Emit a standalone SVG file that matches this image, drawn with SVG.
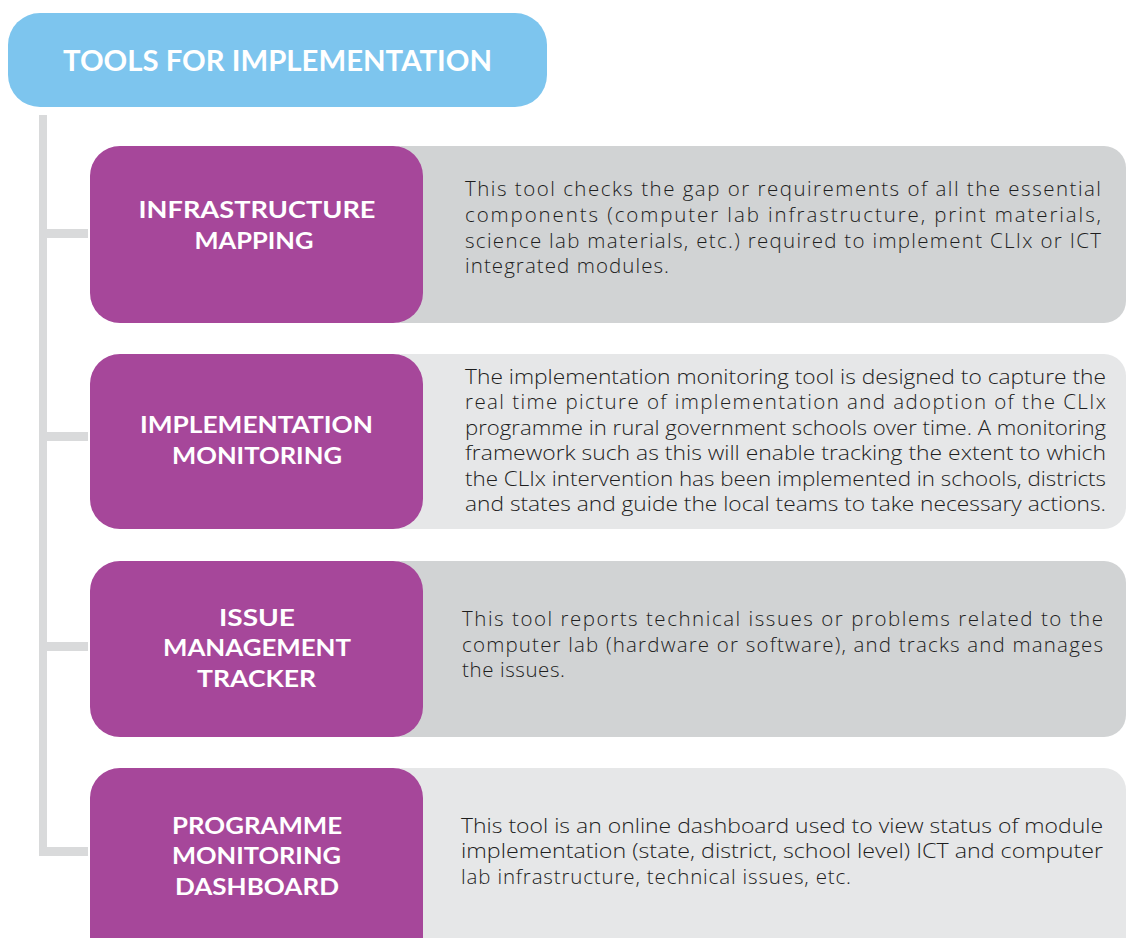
<svg xmlns="http://www.w3.org/2000/svg" width="1126" height="938" viewBox="0 0 1126 938">
<style>
.title{font-family:Lato,"Liberation Sans",sans-serif;font-weight:700;font-size:28px;fill:#fff}
.lab{font-family:Lato,"Liberation Sans",sans-serif;font-weight:700;font-size:23px;fill:#fff;text-anchor:middle}
.body{font-family:"Open Sans","Liberation Sans",sans-serif;font-weight:300;font-size:20.5px;fill:#1e1e1e}
.conn{fill:#D9DADB}
.purple{fill:#A6479A}
.g1{fill:#D1D3D4}
.g2{fill:#E6E7E8}
</style>
<rect width="1126" height="938" fill="#fff"/>
<g id="title">
<rect x="8" y="13" width="539" height="94" rx="32" fill="#7DC5EE"/>
<text class="title" x="277.5" y="71" text-anchor="middle" textLength="429" lengthAdjust="spacingAndGlyphs">TOOLS FOR IMPLEMENTATION</text>
</g>
<g id="connectors">
<rect class="conn" x="39" y="115" width="8" height="741"/>
<rect class="conn" x="39" y="229" width="49" height="9"/>
<rect class="conn" x="39" y="432" width="49" height="9"/>
<rect class="conn" x="39" y="642" width="49" height="9"/>
<rect class="conn" x="39" y="847" width="49" height="9"/>
</g>
<g id="node1">
<rect class="g1" x="380" y="146" width="746" height="177" rx="22"/>
<rect class="purple" x="90" y="146" width="333" height="177" rx="30"/>
<text class="lab" x="257" y="218" textLength="237" lengthAdjust="spacingAndGlyphs">INFRASTRUCTURE</text>
<text class="lab" x="254" y="249" textLength="119" lengthAdjust="spacingAndGlyphs">MAPPING</text>
<text class="body" x="465" y="196" textLength="636" lengthAdjust="spacing">This tool checks the gap or requirements of all the essential</text>
<text class="body" x="465" y="222" textLength="636" lengthAdjust="spacing">components (computer lab infrastructure, print materials,</text>
<text class="body" x="465" y="248" textLength="636" lengthAdjust="spacing">science lab materials, etc.) required to implement CLIx or ICT</text>
<text class="body" x="465" y="273" textLength="204" lengthAdjust="spacing">integrated modules.</text>
</g>
<g id="node2">
<rect class="g2" x="380" y="354" width="746" height="175" rx="22"/>
<rect class="purple" x="90" y="354" width="333" height="175" rx="30"/>
<text class="lab" x="256.5" y="433" textLength="233" lengthAdjust="spacingAndGlyphs">IMPLEMENTATION</text>
<text class="lab" x="257" y="464" textLength="170" lengthAdjust="spacingAndGlyphs">MONITORING</text>
<text class="body" x="465" y="384" textLength="641" lengthAdjust="spacingAndGlyphs">The implementation monitoring tool is designed to capture the</text>
<text class="body" x="465" y="409" textLength="641" lengthAdjust="spacing">real time picture of implementation and adoption of the CLIx</text>
<text class="body" x="465" y="435" textLength="641" lengthAdjust="spacingAndGlyphs">programme in rural government schools over time. A monitoring</text>
<text class="body" x="465" y="460" textLength="641" lengthAdjust="spacingAndGlyphs">framework such as this will enable tracking the extent to which</text>
<text class="body" x="465" y="486" textLength="641" lengthAdjust="spacingAndGlyphs">the CLIx intervention has been implemented in schools, districts</text>
<text class="body" x="465" y="511" textLength="641" lengthAdjust="spacingAndGlyphs">and states and guide the local teams to take necessary actions.</text>
</g>
<g id="node3">
<rect class="g1" x="380" y="561" width="746" height="176" rx="22"/>
<rect class="purple" x="90" y="561" width="333" height="176" rx="30"/>
<text class="lab" x="257" y="626" textLength="76" lengthAdjust="spacingAndGlyphs">ISSUE</text>
<text class="lab" x="257" y="656" textLength="188" lengthAdjust="spacingAndGlyphs">MANAGEMENT</text>
<text class="lab" x="256.5" y="687" textLength="119" lengthAdjust="spacingAndGlyphs">TRACKER</text>
<text class="body" x="462" y="626" textLength="641" lengthAdjust="spacing">This tool reports technical issues or problems related to the</text>
<text class="body" x="462" y="652" textLength="641" lengthAdjust="spacing">computer lab (hardware or software), and tracks and manages</text>
<text class="body" x="462" y="677" textLength="103" lengthAdjust="spacing">the issues.</text>
</g>
<g id="node4">
<rect class="g2" x="380" y="768" width="746" height="200" rx="22"/>
<rect class="purple" x="90" y="768" width="333" height="200" rx="30"/>
<text class="lab" x="257" y="834" textLength="170" lengthAdjust="spacingAndGlyphs">PROGRAMME</text>
<text class="lab" x="256.5" y="864" textLength="169" lengthAdjust="spacingAndGlyphs">MONITORING</text>
<text class="lab" x="257" y="895" textLength="164" lengthAdjust="spacingAndGlyphs">DASHBOARD</text>
<text class="body" x="461" y="833" textLength="642" lengthAdjust="spacingAndGlyphs">This tool is an online dashboard used to view status of module</text>
<text class="body" x="461" y="858" textLength="642" lengthAdjust="spacingAndGlyphs">implementation (state, district, school level) ICT and computer</text>
<text class="body" x="461" y="884" textLength="390" lengthAdjust="spacing">lab infrastructure, technical issues, etc.</text>
</g>
</svg>
